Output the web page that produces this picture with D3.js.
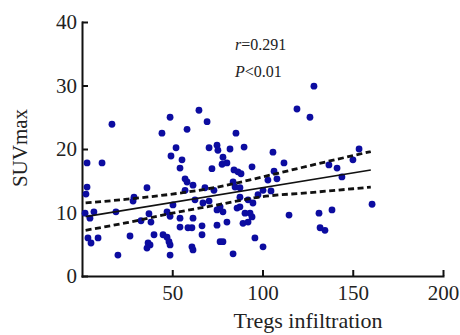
<!DOCTYPE html>
<html>
<head>
<meta charset="utf-8">
<script src="https://cdnjs.cloudflare.com/ajax/libs/d3/7.8.5/d3.min.js"></script>
<style>
  body { margin: 0; background: #fff; }
  text { font-family: "Liberation Serif", "Times New Roman", serif; fill: #222; }
  .axis path, .axis line { stroke: #111; stroke-width: 2; }
  .axis text { font-size: 21px; }
</style>
</head>
<body>
<div id="chart"></div>
<script>
// Tregs infiltration (x) vs SUVmax (y)
var tregs = [16.6, 44.3, 48.8, 58.2, 64.8, 69.3, 85.3, 128.5, 119.1, 126.3, 52.1, 70.4, 74.8, 82.0, 89.8, 153.5,
             2.8, 11.1, 49.3, 55.4, 54.3, 75.3, 78.1, 77.6, 80.3, 72.0, 84.2, 86.4, 88.1, 94.2, 105.8, 111.9, 106.4, 136.8, 141.3, 150.1,
             108.0, 104.7, 144.0, 160.7, 138.5, 131.3, 114.7,
             2.8, 2.2, 36.0, 28.8, 28.3, 1.7, 4.4, 6.6, 18.8, 47.1, 48.8, 37.1,
             57.1, 58.2, 61.5, 68.1, 73.1, 83.7, 84.8, 87.5, 57.1, 62.6, 67.0, 70.4, 76.5, 87.5, 87.5, 92.0, 94.7, 97.5, 100.3, 103.0, 50.4, 74.8, 78.1, 85.9,
             89.2, 92.0, 94.2, 90.3, 93.1, 131.9, 134.6, 95.8, 100.3, 83.7,
             3.3, 5.0, 8.9, 19.9, 26.6, 32.7, 38.2, 39.9, 36.6, 37.7, 44.9, 47.1, 48.2, 48.8, 36.0, 48.8,
             54.3, 58.7, 60.9, 66.5, 54.3, 61.5, 66.5, 74.8, 80.3, 76.5, 78.1, 60.9, 61.5];
var suv   = [23.9, 22.5, 25.0, 23.1, 26.1, 24.3, 22.5, 29.9, 26.3, 25.0, 20.2, 20.2, 20.6, 20.0, 20.3, 20.0,
             17.8, 17.8, 18.9, 18.3, 17.0, 19.8, 18.7, 17.6, 17.8, 16.9, 16.7, 16.4, 16.1, 17.2, 19.5, 17.8, 16.5, 17.5, 17.0, 18.3,
             15.3, 13.4, 15.6, 11.3, 10.4, 9.9, 9.6,
             14.0, 12.9, 13.9, 12.4, 11.8, 9.9, 9.1, 10.1, 10.1, 10.1, 9.4, 9.8,
             15.3, 14.8, 14.3, 13.9, 13.5, 14.8, 14.0, 13.9, 13.5, 12.0, 11.5, 11.8, 10.9, 12.4, 10.9, 12.0, 11.5, 12.8, 13.5, 15.1, 11.2, 10.4, 10.1, 10.7,
             8.3, 8.5, 9.3, 9.9, 9.9, 7.6, 7.2, 6.0, 4.6, 3.5,
             6.0, 5.2, 6.0, 3.3, 6.3, 8.7, 8.5, 6.5, 5.2, 4.9, 6.5, 6.1, 5.4, 4.9, 4.4, 3.3,
             7.7, 7.6, 7.6, 7.9, 9.1, 9.1, 6.5, 8.0, 8.5, 5.4, 5.4, 4.6, 4.1];

// fitted line and 95% band, read at a few x positions
var fitX   = [2, 160];
var fitY   = [9.35, 16.7];
var bandX  = [2, 25, 50, 75, 100, 125, 160];
var bandHi = [11.5, 12.1, 12.9, 14.0, 15.6, 17.3, 19.6];
var bandLo = [7.2, 8.4, 9.9, 11.2, 12.5, 13.1, 14.0];

var xTicks = [50, 100, 150, 200];
var yTicks = [0, 10, 20, 30, 40];

var W = 460, H = 335;
var margin = {top: 22, right: 17, bottom: 59, left: 82},
    width = W - margin.left - margin.right,
    height = H - margin.top - margin.bottom;

var svg = d3.select("#chart")
    .append("svg")
        .attr("width", W)
        .attr("height", H)
    .append("g")
        .attr("transform", "translate(" + margin.left + "," + margin.top + ")");

var x = d3.scaleLinear()
        .domain([0, 200])
        .range([0, width]);

var y = d3.scaleLinear()
        .domain([0, 40])
        .range([height, 0]);

svg.append("g")
    .attr("class", "axis x-axis")
    .attr("transform", "translate(0," + height + ")")
    .call(d3.axisBottom(x)
        .tickValues(xTicks)
        .tickSizeInner(-6)
        .tickSizeOuter(0)
        .tickPadding(9));

svg.append("g")
    .attr("class", "axis y-axis")
    .call(d3.axisLeft(y)
        .tickValues(yTicks)
        .tickSizeInner(-6)
        .tickSizeOuter(0)
        .tickPadding(5));

svg.selectAll(".axis .domain").attr("stroke-linecap", "square");

// points
svg.selectAll(".dot")
    .data(tregs.map(function(d, i) { return [d, suv[i]]; }))
  .enter().append("circle")
    .attr("class", "dot")
    .attr("cx", function(d) { return x(d[0]); })
    .attr("cy", function(d) { return y(d[1]); })
    .attr("r", 3.4)
    .attr("fill", "#0c0ca0");

var line = d3.line()
    .x(function(d) { return x(d[0]); })
    .y(function(d) { return y(d[1]); })
    .curve(d3.curveMonotoneX);

svg.append("path")
    .datum(fitX.map(function(d, i) { return [d, fitY[i]]; }))
    .attr("d", line)
    .attr("fill", "none")
    .attr("stroke", "#111")
    .attr("stroke-width", 1.6);

[bandHi, bandLo].forEach(function(b) {
    svg.append("path")
        .datum(bandX.map(function(d, i) { return [d, b[i]]; }))
        .attr("d", line)
        .attr("fill", "none")
        .attr("stroke", "#111")
        .attr("stroke-width", 2.8)
        .attr("stroke-dasharray", "6,3.5");
});

// labels
svg.append("text")
    .attr("transform", "translate(" + (27 - margin.left) + "," + (148 - margin.top) + ") rotate(-90)")
    .attr("text-anchor", "middle")
    .style("font-size", "21px")
    .text("SUVmax");

svg.append("text")
    .attr("x", 308 - margin.left)
    .attr("y", 328 - margin.top)
    .attr("text-anchor", "middle")
    .style("font-size", "22px")
    .text("Tregs infiltration");

var note = svg.append("g").style("font-size", "16px");
var t1 = note.append("text").attr("x", 235 - margin.left).attr("y", 50 - margin.top);
t1.append("tspan").style("font-style", "italic").text("r");
t1.append("tspan").text("=0.291");
var t2 = note.append("text").attr("x", 235 - margin.left).attr("y", 77 - margin.top);
t2.append("tspan").style("font-style", "italic").text("P");
t2.append("tspan").text("<0.01");
</script>
</body>
</html>
